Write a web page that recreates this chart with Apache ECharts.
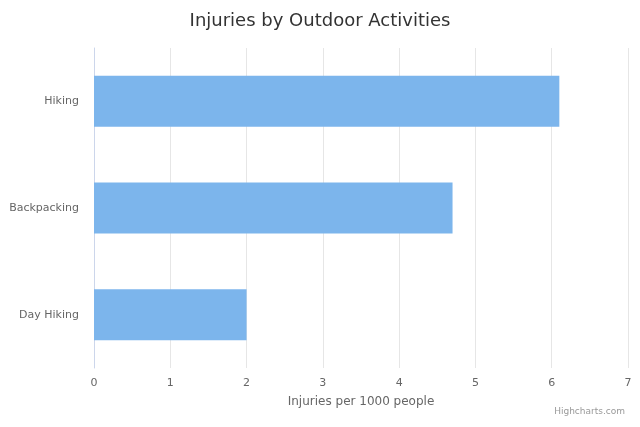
<!DOCTYPE html>
<html><head><meta charset="utf-8">
<script src="https://cdn.jsdelivr.net/npm/echarts@6/dist/echarts.min.js"></script>
<style>html,body{margin:0;padding:0;background:#fff}#c{width:640px;height:427px}</style>
</head><body><div id="c"></div>
<script>
const categories = ["Day Hiking", "Backpacking", "Hiking"];
const values = [2, 4.7, 6.1];
const chart = echarts.init(document.getElementById('c'));
chart.setOption({
  animation: false,
  textStyle: {fontFamily: 'DejaVu Sans'},
  title: [{text: 'Injuries by Outdoor Activities', left: 'center', top: 7,
    textStyle: {fontSize: 18, fontWeight: 'normal', color: '#333333', fontFamily: 'DejaVu Sans'}},
    {text: 'Highcharts.com', right: 10, bottom: 6,
    textStyle: {fontSize: 9, fontWeight: 'normal', color: '#999999', fontFamily: 'DejaVu Sans'}}],
  grid: {left: 94, right: 12, top: 48, bottom: 59},
  xAxis: {type: 'value', min: 0, max: 7, interval: 1,
    name: 'Injuries per 1000 people', nameLocation: 'middle', nameGap: 28,
    nameTextStyle: {color: '#666666', fontSize: 12},
    axisLabel: {color: '#666666', fontSize: 11, margin: 10},
    splitLine: {lineStyle: {color: '#e6e6e6'}},
    axisLine: {show: false}, axisTick: {show: false}},
  yAxis: {type: 'category', data: categories,
    axisLabel: {color: '#666666', fontSize: 11, margin: 15},
    axisLine: {lineStyle: {color: '#ccd6eb'}}, axisTick: {show: false}},
  series: [{type: 'bar', data: values, barWidth: 51,
    itemStyle: {color: '#7cb5ec'}}]
});
</script></body></html>
